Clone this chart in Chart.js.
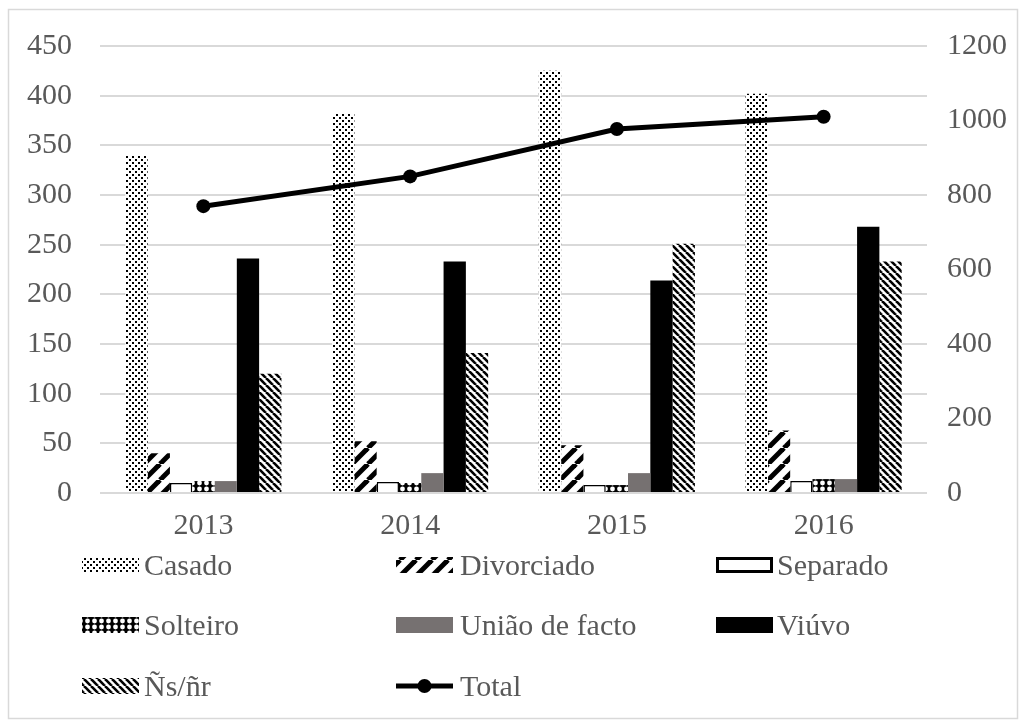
<!DOCTYPE html>
<html>
<head>
<meta charset="utf-8">
<script src="https://cdn.jsdelivr.net/npm/chart.js@4/dist/chart.umd.min.js"></script>
<style>
  html, body { margin: 0; padding: 0; background: #ffffff; }
  canvas { display: block; }
</style>
</head>
<body>
<canvas id="chart" width="1026" height="727"></canvas>
<script>
// Marital status of cases per year (left axis) and yearly total (right axis)
const years = ['2013', '2014', '2015', '2016'];
const casado = [340, 382, 425, 402];
const divorciado = [40, 52, 48, 63];
const separado = [10, 11, 8, 12];
const solteiro = [12, 10, 8, 14];
const uniaoFacto = [12, 20, 20, 14];
const viuvo = [236, 233, 214, 268];
const nsNr = [120, 141, 251, 233];
const total = [770, 850, 977, 1010];

const leftTicks = { min: 0, max: 450, step: 50 };
const rightTicks = { min: 0, max: 1200, step: 200 };

const FONT = '"Liberation Serif", "Times New Roman", serif';
const TEXT = '#595959';
const GRID = '#d9d9d9';

const canvas = document.getElementById('chart');
const ctx = canvas.getContext('2d');

function tile(w, h, bg, draw) {
  const c = document.createElement('canvas');
  c.width = w; c.height = h;
  const g = c.getContext('2d');
  g.fillStyle = bg;
  g.fillRect(0, 0, w, h);
  draw(g, w, h);
  return ctx.createPattern(c, 'repeat');
}

// small dots
const dotFill = tile(6, 6, '#ffffff', (g) => {
  g.fillStyle = '#000000';
  g.fillRect(0, 0, 2, 2);
  g.fillRect(3, 3, 2, 2);
});
// wide upward diagonal
const wideUp = tile(16, 16, '#ffffff', (g, w, h) => {
  g.strokeStyle = '#000000';
  g.lineWidth = 5;
  for (let k = -1; k <= 1; k++) {
    g.beginPath();
    g.moveTo(k * w, h);
    g.lineTo(k * w + w, 0);
    g.stroke();
  }
});
// dark downward diagonal
const darkDown = tile(7, 7, '#ffffff', (g, w, h) => {
  g.strokeStyle = '#000000';
  g.lineWidth = 2.6;
  for (let k = -1; k <= 1; k++) {
    g.beginPath();
    g.moveTo(k * w, 0);
    g.lineTo(k * w + w, h);
    g.stroke();
  }
});
// black with white spheres
const sphereFill = tile(7, 6, '#000000', (g) => {
  g.fillStyle = '#ffffff';
  g.beginPath();
  g.arc(3.5, 3, 2.4, 0, Math.PI * 2);
  g.fill();
});

const barBase = { yAxisID: 'y', order: 1, borderWidth: 0 };

const datasets = [
  { ...barBase, label: 'Casado', data: casado, backgroundColor: dotFill },
  { ...barBase, label: 'Divorciado', data: divorciado, backgroundColor: wideUp },
  { ...barBase, label: 'Separado', data: separado, backgroundColor: '#ffffff', borderColor: '#000000', borderWidth: 1.5 },
  { ...barBase, label: 'Solteiro', data: solteiro, backgroundColor: sphereFill },
  { ...barBase, label: 'União de facto', data: uniaoFacto, backgroundColor: '#767171' },
  { ...barBase, label: 'Viúvo', data: viuvo, backgroundColor: '#000000' },
  { ...barBase, label: 'Ñs/ñr', data: nsNr, backgroundColor: darkDown },
  {
    type: 'line', label: 'Total', data: total, yAxisID: 'y1', order: 0,
    borderColor: '#000000', backgroundColor: '#000000', borderWidth: 5,
    pointRadius: 7, pointBackgroundColor: '#000000', pointBorderWidth: 0,
    tension: 0, fill: false
  }
];

// legend grid: 3 columns, 3 rows
const legendCols = { symbol: [82, 396, 716], text: [144, 460, 777] };
const legendRows = [565, 625, 686];

const gridLegend = {
  id: 'gridLegend',
  afterDraw(chart) {
    const c = chart.ctx;
    c.save();
    // chart frame
    c.strokeStyle = GRID;
    c.lineWidth = 1.5;
    c.strokeRect(8.5, 9.5, 1009, 709);

    c.font = '30px ' + FONT;
    c.fillStyle = TEXT;
    c.textBaseline = 'middle';
    chart.data.datasets.forEach((ds, i) => {
      const col = i % 3, row = Math.floor(i / 3);
      const sx = legendCols.symbol[col], sy = legendRows[row];
      const sw = 57, sh = 16;
      if (ds.type === 'line') {
        c.strokeStyle = ds.borderColor;
        c.lineWidth = ds.borderWidth;
        c.beginPath();
        c.moveTo(sx, sy);
        c.lineTo(sx + sw, sy);
        c.stroke();
        c.fillStyle = ds.pointBackgroundColor;
        c.beginPath();
        c.arc(sx + sw / 2, sy, ds.pointRadius, 0, Math.PI * 2);
        c.fill();
      } else {
        c.fillStyle = ds.backgroundColor;
        c.fillRect(sx, sy - sh / 2, sw, sh);
        if (ds.borderWidth) {
          c.strokeStyle = ds.borderColor;
          c.lineWidth = 3;
          c.strokeRect(sx + 1.5, sy - sh / 2 + 1.5, sw - 3, sh - 3);
        }
      }
      c.fillStyle = TEXT;
      c.fillText(ds.label, legendCols.text[col], sy + 2);
    });
    c.restore();
  }
};

const plainNumber = (v) => String(v);

new Chart(ctx, {
  type: 'bar',
  data: { labels: years, datasets },
  options: {
    responsive: false,
    animation: false,
    layout: { padding: { top: 44, left: 0, right: 0, bottom: 0 } },
    datasets: { bar: { categoryPercentage: 0.755, barPercentage: 1 } },
    plugins: { legend: { display: false }, tooltip: { enabled: false } },
    scales: {
      x: {
        grid: { display: false },
        border: { display: false },
        ticks: { color: TEXT, font: { family: FONT, size: 30 }, padding: 7 },
        afterFit(scale) { scale.height = 234; }
      },
      y: {
        position: 'left',
        min: leftTicks.min, max: leftTicks.max,
        grid: { color: GRID, lineWidth: 2, drawTicks: false },
        border: { display: false },
        ticks: { stepSize: leftTicks.step, color: TEXT, font: { family: FONT, size: 30 }, padding: 28, callback: plainNumber },
        afterFit(scale) { scale.width = 100; }
      },
      y1: {
        position: 'right',
        min: rightTicks.min, max: rightTicks.max,
        grid: { drawOnChartArea: false, drawTicks: false },
        border: { display: false },
        ticks: { stepSize: rightTicks.step, color: TEXT, font: { family: FONT, size: 30 }, padding: 20, callback: plainNumber },
        afterFit(scale) { scale.width = 99; }
      }
    }
  },
  plugins: [gridLegend]
});
</script>
</body>
</html>
